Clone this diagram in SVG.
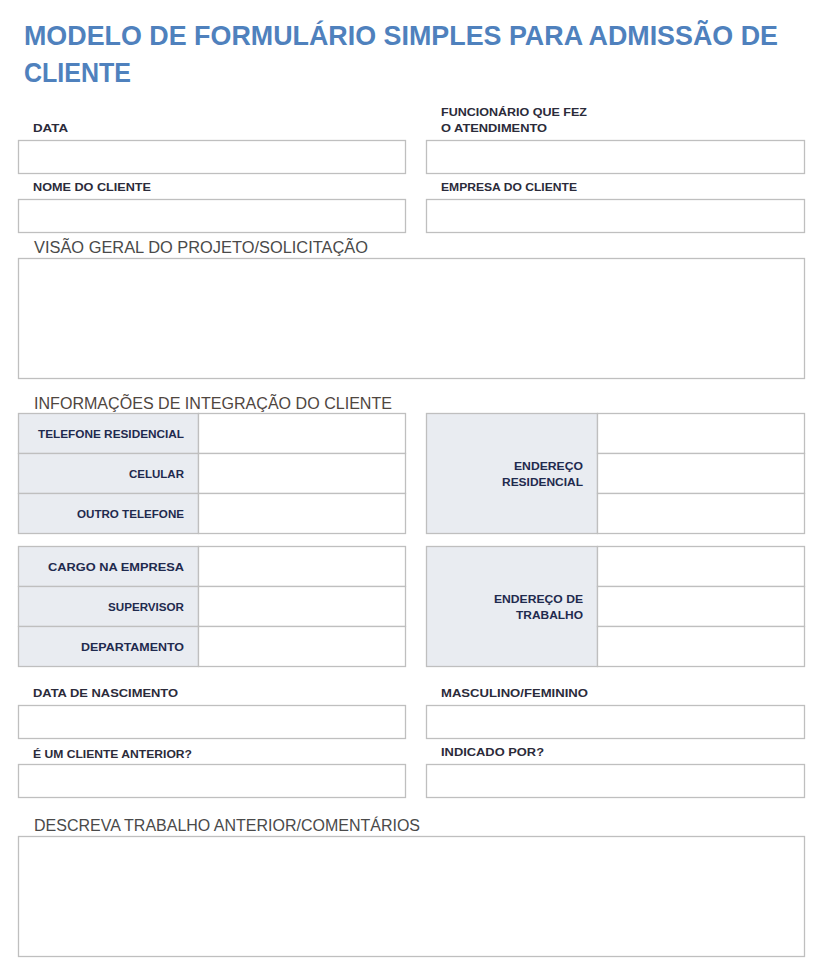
<svg xmlns="http://www.w3.org/2000/svg" width="822" height="971" viewBox="0 0 822 971">
<style>
.bg{fill:#ffffff}
.box{fill:#ffffff;stroke:#bfbfbf;stroke-width:1.3}
.lab{fill:#e9ecf1;stroke:#bfbfbf;stroke-width:1.3}
.title{font-family:"Liberation Sans",Arial,sans-serif;font-weight:bold;font-size:28px;fill:#4f81bd}
.fl{font-family:"Liberation Sans",Arial,sans-serif;font-weight:bold;font-size:11.5px;fill:#2b2b3a}
.tl{font-family:"Liberation Sans",Arial,sans-serif;font-weight:bold;font-size:11.5px;fill:#1f2a4e}
.sec{font-family:"Liberation Sans",Arial,sans-serif;font-size:16px;fill:#4a4a4a}
</style>
<rect class="bg" x="0" y="0" width="822" height="971"/>
<g id="title">
<text class="title" x="24" y="44.5" textLength="754" lengthAdjust="spacingAndGlyphs">MODELO DE FORMULÁRIO SIMPLES PARA ADMISSÃO DE</text>
<text class="title" x="24" y="82" textLength="107" lengthAdjust="spacingAndGlyphs">CLIENTE</text>
</g>
<g id="data">
<text class="fl" x="33" y="132" textLength="35" lengthAdjust="spacingAndGlyphs">DATA</text>
<rect class="box" x="18.5" y="140.5" width="387" height="33"/>
</g>
<g id="funcionario">
<text class="fl" x="441" y="116" textLength="146" lengthAdjust="spacingAndGlyphs">FUNCIONÁRIO QUE FEZ</text>
<text class="fl" x="441" y="132" textLength="106" lengthAdjust="spacingAndGlyphs">O ATENDIMENTO</text>
<rect class="box" x="426.5" y="140.5" width="378" height="33"/>
</g>
<g id="nome">
<text class="fl" x="33" y="191" textLength="118" lengthAdjust="spacingAndGlyphs">NOME DO CLIENTE</text>
<rect class="box" x="18.5" y="199.5" width="387" height="33"/>
</g>
<g id="empresa">
<text class="fl" x="441" y="191" textLength="136" lengthAdjust="spacingAndGlyphs">EMPRESA DO CLIENTE</text>
<rect class="box" x="426.5" y="199.5" width="378" height="33"/>
</g>
<g id="visao">
<text class="sec" x="34" y="253" textLength="334" lengthAdjust="spacingAndGlyphs">VISÃO GERAL DO PROJETO/SOLICITAÇÃO</text>
<rect class="box" x="18.5" y="258.5" width="786" height="120"/>
</g>
<g id="integracao">
<text class="sec" x="34" y="409" textLength="358" lengthAdjust="spacingAndGlyphs" style="fill:#4f463f">INFORMAÇÕES DE INTEGRAÇÃO DO CLIENTE</text>
</g>
<g id="telefones">
<rect class="lab" x="18.5" y="413.5" width="180" height="40"/>
<rect class="lab" x="18.5" y="453.5" width="180" height="40"/>
<rect class="lab" x="18.5" y="493.5" width="180" height="40"/>
<rect class="box" x="198.5" y="413.5" width="207" height="40"/>
<rect class="box" x="198.5" y="453.5" width="207" height="40"/>
<rect class="box" x="198.5" y="493.5" width="207" height="40"/>
<text class="tl" x="184" y="438" text-anchor="end" textLength="146" lengthAdjust="spacingAndGlyphs">TELEFONE RESIDENCIAL</text>
<text class="tl" x="184" y="478" text-anchor="end" textLength="55" lengthAdjust="spacingAndGlyphs">CELULAR</text>
<text class="tl" x="184" y="518" text-anchor="end" textLength="107" lengthAdjust="spacingAndGlyphs">OUTRO TELEFONE</text>
</g>
<g id="endereco-residencial">
<rect class="lab" x="426.5" y="413.5" width="171" height="120"/>
<rect class="box" x="597.5" y="413.5" width="207" height="40"/>
<rect class="box" x="597.5" y="453.5" width="207" height="40"/>
<rect class="box" x="597.5" y="493.5" width="207" height="40"/>
<text class="tl" x="583" y="470" text-anchor="end" textLength="69" lengthAdjust="spacingAndGlyphs">ENDEREÇO</text>
<text class="tl" x="583" y="486" text-anchor="end" textLength="81" lengthAdjust="spacingAndGlyphs">RESIDENCIAL</text>
</g>
<g id="trabalho">
<rect class="lab" x="18.5" y="546.5" width="180" height="40"/>
<rect class="lab" x="18.5" y="586.5" width="180" height="40"/>
<rect class="lab" x="18.5" y="626.5" width="180" height="40"/>
<rect class="box" x="198.5" y="546.5" width="207" height="40"/>
<rect class="box" x="198.5" y="586.5" width="207" height="40"/>
<rect class="box" x="198.5" y="626.5" width="207" height="40"/>
<text class="tl" x="184" y="571" text-anchor="end" textLength="136" lengthAdjust="spacingAndGlyphs">CARGO NA EMPRESA</text>
<text class="tl" x="184" y="611" text-anchor="end" textLength="76" lengthAdjust="spacingAndGlyphs">SUPERVISOR</text>
<text class="tl" x="184" y="651" text-anchor="end" textLength="103" lengthAdjust="spacingAndGlyphs">DEPARTAMENTO</text>
</g>
<g id="endereco-trabalho">
<rect class="lab" x="426.5" y="546.5" width="171" height="120"/>
<rect class="box" x="597.5" y="546.5" width="207" height="40"/>
<rect class="box" x="597.5" y="586.5" width="207" height="40"/>
<rect class="box" x="597.5" y="626.5" width="207" height="40"/>
<text class="tl" x="583" y="603" text-anchor="end" textLength="89" lengthAdjust="spacingAndGlyphs">ENDEREÇO DE</text>
<text class="tl" x="583" y="619" text-anchor="end" textLength="67" lengthAdjust="spacingAndGlyphs">TRABALHO</text>
</g>
<g id="nascimento">
<text class="fl" x="33" y="697" textLength="145" lengthAdjust="spacingAndGlyphs">DATA DE NASCIMENTO</text>
<rect class="box" x="18.5" y="705.5" width="387" height="33"/>
</g>
<g id="sexo">
<text class="fl" x="441" y="697" textLength="147" lengthAdjust="spacingAndGlyphs">MASCULINO/FEMININO</text>
<rect class="box" x="426.5" y="705.5" width="378" height="33"/>
</g>
<g id="anterior">
<text class="fl" x="33" y="758" textLength="159" lengthAdjust="spacingAndGlyphs">É UM CLIENTE ANTERIOR?</text>
<rect class="box" x="18.5" y="764.5" width="387" height="33"/>
</g>
<g id="indicado">
<text class="fl" x="441" y="756" textLength="103" lengthAdjust="spacingAndGlyphs">INDICADO POR?</text>
<rect class="box" x="426.5" y="764.5" width="378" height="33"/>
</g>
<g id="comentarios">
<text class="sec" x="34" y="831" textLength="386" lengthAdjust="spacingAndGlyphs">DESCREVA TRABALHO ANTERIOR/COMENTÁRIOS</text>
<rect class="box" x="18.5" y="836.5" width="786" height="120"/>
</g>
<g id="connectors"/>
</svg>
